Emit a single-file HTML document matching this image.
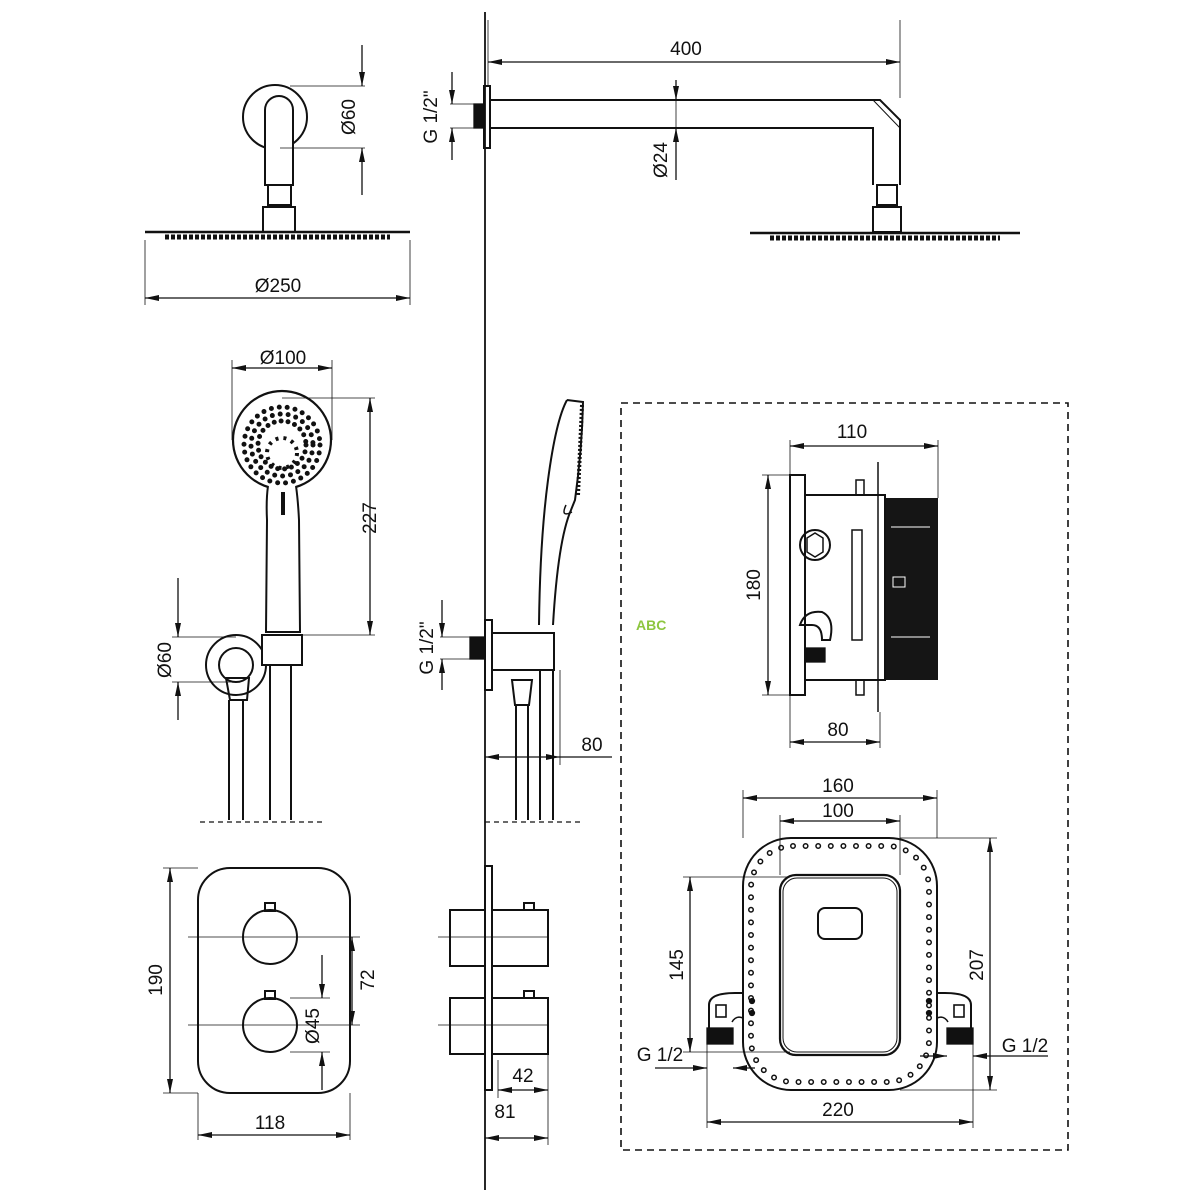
<!DOCTYPE html>
<html><head><meta charset="utf-8"><style>
html,body{margin:0;padding:0;background:#fff}
svg{display:block}
text{font-family:"Liberation Sans",sans-serif;font-size:19px;fill:#111}
</style></head><body>
<svg width="1200" height="1200" viewBox="0 0 1200 1200" xmlns="http://www.w3.org/2000/svg">
<defs>
<marker id="a" markerWidth="14" markerHeight="8" refX="14" refY="4" orient="auto-start-reverse" markerUnits="userSpaceOnUse"><path d="M0,1 L14,4 L0,7z" fill="#111"/></marker>
</defs>
<g fill="none" stroke="#111" stroke-width="1.3">
<line x1="485" y1="12" x2="485" y2="1190" stroke-width="1.8"/>

<circle cx="275" cy="117" r="32" stroke-width="2"/>
<path d="M265,185 V110 a14,14 0 0 1 28,0 V185 Z" fill="#fff" stroke-width="2"/>
<rect x="268" y="185" width="23" height="20" stroke-width="2"/>
<rect x="263" y="207" width="32" height="25" stroke-width="2"/>
<path d="M145,232 H410" stroke-width="2.5"/>
<path d="M165,237 H390" stroke-width="5" stroke-dasharray="4 2"/>
<line x1="290" y1="86" x2="365" y2="86" stroke-width="0.8"/>
<line x1="280" y1="148" x2="365" y2="148" stroke-width="0.8"/>
<line x1="362" y1="45" x2="362" y2="86" marker-end="url(#a)"/>
<line x1="362" y1="195" x2="362" y2="148" marker-end="url(#a)"/>
<line x1="145" y1="240" x2="145" y2="305" stroke-width="0.8"/>
<line x1="410" y1="240" x2="410" y2="305" stroke-width="0.8"/>
<line x1="145" y1="298" x2="410" y2="298" marker-start="url(#a)" marker-end="url(#a)"/>

<rect x="484" y="86" width="6" height="62" stroke-width="2"/>
<rect x="474" y="104" width="10" height="24" fill="#111"/>
<path d="M490,100 H880 L900,120 V185 M490,128 H873 V185" stroke-width="2"/>
<path d="M873,100 L900,128" stroke-width="1"/>
<rect x="877" y="185" width="20" height="20" stroke-width="2"/>
<rect x="873" y="207" width="28" height="25" stroke-width="2"/>
<path d="M750,233 H1020" stroke-width="2.5"/>
<path d="M770,238 H1000" stroke-width="5" stroke-dasharray="4 2"/>
<line x1="488" y1="20" x2="488" y2="85" stroke-width="0.8"/>
<line x1="900" y1="20" x2="900" y2="98" stroke-width="0.8"/>
<line x1="488" y1="62" x2="900" y2="62" marker-start="url(#a)" marker-end="url(#a)"/>
<line x1="676" y1="80" x2="676" y2="100" marker-end="url(#a)"/>
<line x1="676" y1="180" x2="676" y2="128" marker-end="url(#a)"/>
<line x1="676" y1="100" x2="676" y2="128" stroke-width="0.8"/>
<line x1="450" y1="104" x2="474" y2="104" stroke-width="0.8"/>
<line x1="450" y1="128" x2="474" y2="128" stroke-width="0.8"/>
<line x1="452" y1="72" x2="452" y2="104" marker-end="url(#a)"/>
<line x1="452" y1="160" x2="452" y2="128" marker-end="url(#a)"/>

<circle cx="282" cy="440" r="49" stroke-width="2.2"/>
<circle cx="282" cy="445" r="38" stroke="#111" stroke-width="5" stroke-dasharray="0 8" stroke-linecap="round"/>
<circle cx="282" cy="445" r="31" stroke-width="5" stroke-dasharray="0 8" stroke-linecap="round"/>
<circle cx="282" cy="445" r="24" stroke-width="5" stroke-dasharray="0 7" stroke-linecap="round"/>
<circle cx="282" cy="453" r="15" stroke-width="4" stroke-dasharray="3 5"/>
<path d="M268,486 Q266,500 267,520 L266,632 H300 L299,520 Q298,500 296,486" stroke-width="2" fill="#fff"/>
<line x1="283" y1="492" x2="283" y2="515" stroke-width="4"/>
<circle cx="236" cy="665" r="30" stroke-width="2"/>
<circle cx="236" cy="665" r="17" stroke-width="2"/>
<rect x="262" y="635" width="40" height="30" stroke-width="2" fill="#fff"/>
<path d="M226,678 L249,678 L247,700 L230,700 Z" stroke-width="2"/>
<path d="M229,700 V820 M243,700 V820 M270,665 V820 M291,665 V820" stroke-width="2"/>
<line x1="200" y1="822" x2="325" y2="822" stroke-dasharray="5 4"/>
<line x1="232" y1="360" x2="232" y2="440" stroke-width="0.8"/>
<line x1="332" y1="360" x2="332" y2="440" stroke-width="0.8"/>
<line x1="232" y1="368" x2="332" y2="368" marker-start="url(#a)" marker-end="url(#a)"/>
<line x1="282" y1="398" x2="375" y2="398" stroke-width="0.8"/>
<line x1="300" y1="635" x2="375" y2="635" stroke-width="0.8"/>
<line x1="370" y1="398" x2="370" y2="635" marker-start="url(#a)" marker-end="url(#a)"/>
<line x1="172" y1="637" x2="236" y2="637" stroke-width="0.8"/>
<line x1="172" y1="682" x2="236" y2="682" stroke-width="0.8"/>
<line x1="178" y1="578" x2="178" y2="637" marker-end="url(#a)"/>
<line x1="178" y1="720" x2="178" y2="682" marker-end="url(#a)"/>

<path d="M567,400 Q556,420 548,480 Q540,540 539,625 M567,400 L583,402 Q582,450 575,500 L571,510 Q558,540 553,625" stroke-width="2"/>
<path d="M582,405 L578,495" stroke-width="4" stroke-dasharray="2 2"/>
<path d="M566,505 Q560,518 572,512" stroke-width="1.5"/>
<rect x="485" y="620" width="7" height="70" stroke-width="2"/>
<rect x="470" y="637" width="15" height="22" fill="#111"/>
<rect x="492" y="633" width="62" height="37" stroke-width="2"/>
<path d="M512,680 L532,680 L529,705 L515,705 Z" stroke-width="2"/>
<path d="M516,705 V820 M528,705 V820 M540,670 V820 M553,670 V820" stroke-width="2"/>
<line x1="485" y1="822" x2="580" y2="822" stroke-dasharray="5 4"/>
<line x1="560" y1="670" x2="560" y2="765" stroke-width="0.8"/>
<line x1="485" y1="757" x2="560" y2="757" marker-start="url(#a)" marker-end="url(#a)"/>
<line x1="560" y1="757" x2="612" y2="757"/>
<line x1="440" y1="637" x2="470" y2="637" stroke-width="0.8"/>
<line x1="440" y1="659" x2="470" y2="659" stroke-width="0.8"/>
<line x1="442" y1="600" x2="442" y2="637" marker-end="url(#a)"/>
<line x1="442" y1="690" x2="442" y2="659" marker-end="url(#a)"/>

<rect x="198" y="868" width="152" height="225" rx="32" stroke-width="2"/>
<circle cx="270" cy="937" r="27" stroke-width="2"/>
<rect x="265" y="903" width="10" height="8" stroke-width="2"/>
<circle cx="270" cy="1025" r="27" stroke-width="2"/>
<rect x="265" y="991" width="10" height="8" stroke-width="2"/>
<line x1="188" y1="937" x2="360" y2="937" stroke-width="0.8"/>
<line x1="188" y1="1025" x2="360" y2="1025" stroke-width="0.8"/>
<line x1="163" y1="868" x2="198" y2="868" stroke-width="0.8"/>
<line x1="163" y1="1093" x2="198" y2="1093" stroke-width="0.8"/>
<line x1="170" y1="868" x2="170" y2="1093" marker-start="url(#a)" marker-end="url(#a)"/>
<line x1="352" y1="937" x2="352" y2="1025" marker-start="url(#a)" marker-end="url(#a)"/>
<line x1="322" y1="955" x2="322" y2="998" marker-end="url(#a)"/>
<line x1="322" y1="1090" x2="322" y2="1052" marker-end="url(#a)"/>
<line x1="290" y1="998" x2="330" y2="998" stroke-width="0.8"/>
<line x1="290" y1="1052" x2="330" y2="1052" stroke-width="0.8"/>
<line x1="198" y1="1093" x2="198" y2="1140" stroke-width="0.8"/>
<line x1="350" y1="1093" x2="350" y2="1140" stroke-width="0.8"/>
<line x1="198" y1="1135" x2="350" y2="1135" marker-start="url(#a)" marker-end="url(#a)"/>

<rect x="485" y="866" width="7" height="224" stroke-width="2"/>
<rect x="450" y="910" width="35" height="56" stroke-width="2"/>
<rect x="492" y="910" width="56" height="56" stroke-width="2"/>
<rect x="524" y="903" width="10" height="7" stroke-width="2"/>
<rect x="450" y="998" width="35" height="56" stroke-width="2"/>
<rect x="492" y="998" width="56" height="56" stroke-width="2"/>
<rect x="524" y="991" width="10" height="7" stroke-width="2"/>
<line x1="438" y1="937" x2="548" y2="937" stroke-width="0.8"/>
<line x1="438" y1="1025" x2="548" y2="1025" stroke-width="0.8"/>
<line x1="548" y1="1054" x2="548" y2="1145" stroke-width="0.8"/>
<line x1="498" y1="1060" x2="498" y2="1098" stroke-width="0.8"/>
<line x1="498" y1="1090" x2="548" y2="1090" marker-start="url(#a)" marker-end="url(#a)"/>
<line x1="485" y1="1138" x2="548" y2="1138" marker-start="url(#a)" marker-end="url(#a)"/>

<rect x="621" y="403" width="447" height="747" stroke-dasharray="7 5" stroke-width="1.6"/>

<rect x="790" y="475" width="15" height="220" stroke-width="2"/>
<rect x="805" y="495" width="80" height="185" stroke-width="2"/>
<rect x="886" y="498" width="52" height="182" fill="#151515" stroke="none"/>
<line x1="878" y1="462" x2="878" y2="712" stroke-width="1.5"/>
<rect x="856" y="480" width="8" height="15" stroke-width="1.5"/>
<rect x="856" y="680" width="8" height="15" stroke-width="1.5"/>
<rect x="852" y="530" width="10" height="110" stroke-width="1.5"/>
<circle cx="815" cy="545" r="15" stroke-width="2"/>
<path d="M807,538 L815,533 L823,538 L823,552 L815,557 L807,552 Z" stroke-width="1.5"/>
<path d="M800,625 Q805,610 822,612 Q835,618 830,640 L822,640 Q822,625 812,625 Z" stroke-width="2"/>
<rect x="805" y="648" width="20" height="14" fill="#111"/>
<path d="M891,527 H930 M891,637 H930" stroke="#fff" stroke-width="1"/>
<rect x="893" y="577" width="12" height="10" stroke="#fff" stroke-width="1"/>
<line x1="790" y1="440" x2="790" y2="475" stroke-width="0.8"/>
<line x1="938" y1="440" x2="938" y2="498" stroke-width="0.8"/>
<line x1="790" y1="446" x2="938" y2="446" marker-start="url(#a)" marker-end="url(#a)"/>
<line x1="762" y1="475" x2="790" y2="475" stroke-width="0.8"/>
<line x1="762" y1="695" x2="790" y2="695" stroke-width="0.8"/>
<line x1="768" y1="475" x2="768" y2="695" marker-start="url(#a)" marker-end="url(#a)"/>
<line x1="790" y1="695" x2="790" y2="748" stroke-width="0.8"/>
<line x1="880" y1="712" x2="880" y2="748" stroke-width="0.8"/>
<line x1="790" y1="742" x2="880" y2="742" marker-start="url(#a)" marker-end="url(#a)"/>

<rect x="743" y="838" width="194" height="252" rx="48" stroke-width="2"/>
<rect x="751" y="846" width="178" height="236" rx="42" stroke-width="6" stroke-dasharray="0 12.6" stroke-linecap="round"/>
<rect x="751" y="846" width="178" height="236" rx="42" stroke="#fff" stroke-width="3" stroke-dasharray="0 12.6" stroke-linecap="round"/>
<rect x="780" y="875" width="120" height="180" rx="16" stroke-width="2.2"/>
<rect x="783" y="878" width="114" height="174" rx="14" stroke-width="1"/>
<rect x="818" y="908" width="44" height="31" rx="7" stroke-width="2"/>
<path d="M743,993 H735 Q709,993 709,1005 V1030 M937,993 H945 Q971,993 971,1005 V1030" stroke-width="2"/>
<path d="M732,1022 Q736,1015 743,1018 M948,1022 Q944,1015 937,1018" stroke-width="1.5"/>
<rect x="716" y="1005" width="10" height="12" stroke-width="1.6"/>
<rect x="954" y="1005" width="10" height="12" stroke-width="1.6"/>
<rect x="707" y="1028" width="26" height="16" fill="#111"/>
<rect x="947" y="1028" width="26" height="16" fill="#111"/>
<circle cx="752" cy="1001" r="2.5" fill="#111"/><circle cx="752" cy="1013" r="2.5" fill="#111"/>
<circle cx="929" cy="1001" r="2.5" fill="#111"/><circle cx="929" cy="1013" r="2.5" fill="#111"/>
<line x1="743" y1="790" x2="743" y2="838" stroke-width="0.8"/>
<line x1="937" y1="790" x2="937" y2="838" stroke-width="0.8"/>
<line x1="743" y1="798" x2="937" y2="798" marker-start="url(#a)" marker-end="url(#a)"/>
<line x1="780" y1="815" x2="780" y2="875" stroke-width="0.8"/>
<line x1="900" y1="815" x2="900" y2="875" stroke-width="0.8"/>
<line x1="780" y1="821" x2="900" y2="821" marker-start="url(#a)" marker-end="url(#a)"/>
<line x1="683" y1="877" x2="790" y2="877" stroke-width="0.8"/>
<line x1="683" y1="1052" x2="790" y2="1052" stroke-width="0.8"/>
<line x1="690" y1="877" x2="690" y2="1052" marker-start="url(#a)" marker-end="url(#a)"/>
<line x1="900" y1="838" x2="997" y2="838" stroke-width="0.8"/>
<line x1="900" y1="1090" x2="997" y2="1090" stroke-width="0.8"/>
<line x1="990" y1="838" x2="990" y2="1090" marker-start="url(#a)" marker-end="url(#a)"/>
<line x1="707" y1="1044" x2="707" y2="1128" stroke-width="0.8"/>
<line x1="973" y1="1044" x2="973" y2="1128" stroke-width="0.8"/>
<line x1="707" y1="1122" x2="973" y2="1122" marker-start="url(#a)" marker-end="url(#a)"/>
<line x1="655" y1="1068" x2="707" y2="1068" marker-end="url(#a)"/>
<line x1="733" y1="1068" x2="755" y2="1068" marker-start="url(#a)"/>
<line x1="1048" y1="1056" x2="973" y2="1056" marker-end="url(#a)"/>
<line x1="920" y1="1056" x2="947" y2="1056" marker-end="url(#a)"/>
</g>

<g>
<text x="278" y="292" text-anchor="middle">Ø250</text>
<text transform="translate(355,117) rotate(-90)" text-anchor="middle">Ø60</text>
<text x="686" y="55" text-anchor="middle">400</text>
<text transform="translate(667,160) rotate(-90)" text-anchor="middle">Ø24</text>
<text transform="translate(437,117) rotate(-90)" text-anchor="middle">G 1/2"</text>
<text x="283" y="364" text-anchor="middle">Ø100</text>
<text transform="translate(376,518) rotate(-90)" text-anchor="middle">227</text>
<text transform="translate(171,660) rotate(-90)" text-anchor="middle">Ø60</text>
<text transform="translate(433,648) rotate(-90)" text-anchor="middle">G 1/2"</text>
<text x="592" y="751" text-anchor="middle">80</text>
<text transform="translate(162,980) rotate(-90)" text-anchor="middle">190</text>
<text transform="translate(374,980) rotate(-90)" text-anchor="middle">72</text>
<text transform="translate(319,1026) rotate(-90)" text-anchor="middle">Ø45</text>
<text x="270" y="1129" text-anchor="middle">118</text>
<text x="523" y="1082" text-anchor="middle">42</text>
<text x="505" y="1118" text-anchor="middle">81</text>
<text x="852" y="438" text-anchor="middle">110</text>
<text transform="translate(760,585) rotate(-90)" text-anchor="middle">180</text>
<text x="838" y="736" text-anchor="middle">80</text>
<text x="838" y="792" text-anchor="middle">160</text>
<text x="838" y="817" text-anchor="middle">100</text>
<text transform="translate(683,965) rotate(-90)" text-anchor="middle">145</text>
<text transform="translate(983,965) rotate(-90)" text-anchor="middle">207</text>
<text x="838" y="1116" text-anchor="middle">220</text>
<text x="660" y="1061" text-anchor="middle">G 1/2</text>
<text x="1025" y="1052" text-anchor="middle">G 1/2</text>
<text x="636" y="630" style="font-size:14px;font-weight:bold;fill:#8dc63f">ABC</text>
</g>
</svg>
</body></html>
